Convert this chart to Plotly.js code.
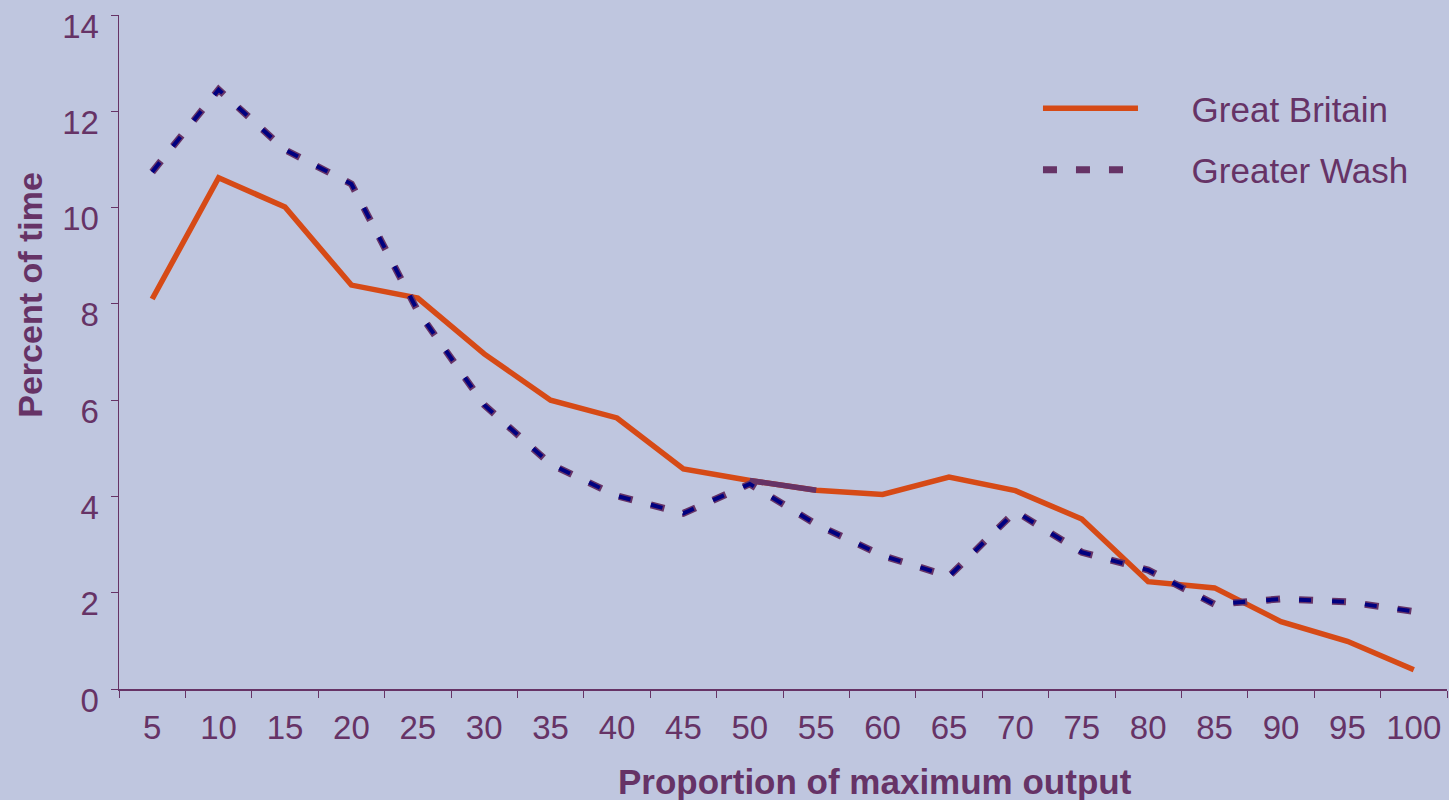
<!DOCTYPE html>
<html>
<head>
<meta charset="utf-8">
<script src="https://cdn.plot.ly/plotly-3.0.1.min.js"></script>
<style>html,body{margin:0;padding:0;background:#BFC6DF;}#chart{width:1449px;height:800px;}</style>
</head>
<body>
<div id="chart"></div>
<script>
// Categories (proportion of maximum output, %)
var categories = ['5','10','15','20','25','30','35','40','45','50','55','60','65','70','75','80','85','90','95','100'];
// Percent of time
var greatBritain = [8.1, 10.62, 10.01, 8.39, 8.12, 6.96, 6.0, 5.63, 4.57, 4.33, 4.13, 4.04, 4.40, 4.12, 3.53, 2.23, 2.10, 1.40, 0.99, 0.40];
var greaterWash  = [10.74, 12.45, 11.2, 10.49, 7.85, 5.9, 4.67, 4.01, 3.65, 4.26, 3.42, 2.77, 2.34, 3.69, 2.84, 2.47, 1.76, 1.87, 1.81, 1.61];
var seriesNames = ['\u00A0\u00A0\u00A0\u00A0\u00A0Great Britain', '\u00A0\u00A0\u00A0\u00A0\u00A0Greater Wash'];

var purple = '#663366';
var fontFam = '"Liberation Sans", Arial, sans-serif';

var traces = [
  {x: categories, y: greatBritain, type: 'scatter', mode: 'lines', name: seriesNames[0],
   legendgroup: 'a', line: {color: '#D64A16', width: 5.5}},
  {x: categories.slice(9, 11), y: greatBritain.slice(9, 11), type: 'scatter', mode: 'lines',
   showlegend: false, hoverinfo: 'skip', legendgroup: 'a', line: {color: purple, width: 5.5}},
  {x: categories, y: greaterWash, type: 'scatter', mode: 'lines', name: seriesNames[1],
   legendgroup: 'b', line: {color: purple, width: 7, dash: '14px,19px'}},
  {x: categories, y: greaterWash, type: 'scatter', mode: 'lines', name: seriesNames[1],
   showlegend: false, legendgroup: 'b', hoverinfo: 'skip', line: {color: '#000080', width: 4, dash: '12px,21px'}}
];

var layout = {
  width: 1449, height: 800,
  paper_bgcolor: '#BFC6DF', plot_bgcolor: '#BFC6DF',
  margin: {l: 119, r: 2, t: 15, b: 111},
  font: {family: fontFam, color: purple, size: 33},
  showlegend: true,
  legend: {x: 0.692, xanchor: 'left', y: 0.905, yanchor: 'top', bgcolor: 'rgba(0,0,0,0)',
           font: {size: 35, color: purple, family: fontFam}, tracegroupgap: 13, itemwidth: 95},
  xaxis: {type: 'category', range: [-0.5, 19.5], tickson: 'boundaries', ticks: 'outside', ticklen: 7, tickcolor: purple,
          showline: true, linecolor: purple, linewidth: 1.5, showgrid: false, zeroline: false,
          tickfont: {size: 33, color: purple}, ticklabelstandoff: 9, fixedrange: true},
  yaxis: {range: [0, 14], dtick: 2, tick0: 0, ticks: 'outside', ticklen: 7, tickcolor: purple,
          showline: true, linecolor: purple, linewidth: 1.5, showgrid: false, zeroline: false,
          tickfont: {size: 33, color: purple}, ticklabelshift: 11, ticklabelstandoff: 5,
          ticklabeloverflow: 'allow', fixedrange: true},
  annotations: [
    {text: '<b>Proportion of maximum output</b>', xref: 'paper', yref: 'paper', x: 0.569, y: -0.137,
     xanchor: 'center', yanchor: 'middle', showarrow: false, font: {size: 35, color: purple, family: fontFam}},
    {text: '<b>Percent of time</b>', xref: 'paper', yref: 'paper', x: -0.067, y: 0.585, textangle: -90,
     xanchor: 'center', yanchor: 'middle', showarrow: false, font: {size: 34, color: purple, family: fontFam}}
  ]
};

Plotly.newPlot('chart', traces, layout, {displayModeBar: false, staticPlot: true});
</script>
</body>
</html>
